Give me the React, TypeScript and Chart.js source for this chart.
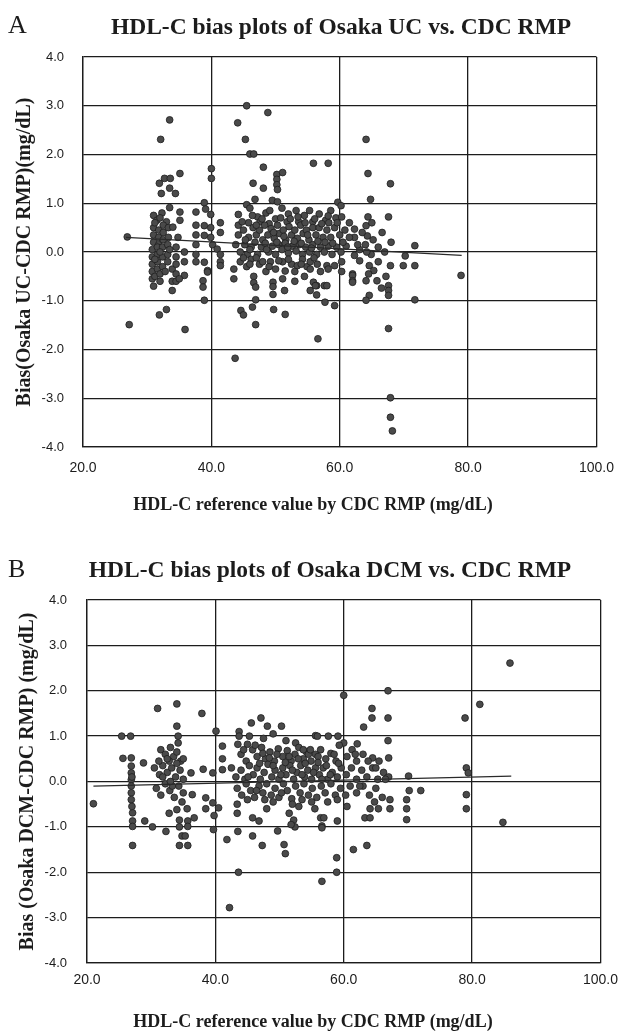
import React, { useEffect, useRef } from 'react';
import { Chart, registerables } from 'chart.js';

Chart.register(...registerables);

// ---------- data ----------
const xTickValues = [20, 40, 60, 80, 100];
const yTickValues = [-4, -3, -2, -1, 0, 1, 2, 3, 4];

const titleA = 'HDL-C bias plots of Osaka UC vs. CDC RMP';
const titleB = 'HDL-C bias plots of Osaka DCM vs. CDC RMP';
const yTitleA = 'Bias(Osaka UC-CDC RMP)(mg/dL)';
const yTitleB = 'Bias (Osaka DCM-CDC RMP) (mg/dL)';
const xTitle = 'HDL-C reference value by CDC RMP (mg/dL)';

// Panel A: [reference value, bias]
const ucPoints: [number, number][] = [
  [45.5, 3.0], [48.8, 2.86], [33.5, 2.71], [44.1, 2.65], [32.1, 2.31], [45.3, 2.31], [46.0, 2.01], [46.6, 2.01],
  [64.1, 2.31], [55.9, 1.82], [58.2, 1.82], [48.1, 1.74], [40.0, 1.71], [40.0, 1.51], [35.1, 1.61], [32.7, 1.51],
  [33.6, 1.51], [31.9, 1.41], [33.5, 1.31], [34.4, 1.2], [32.2, 1.2], [50.2, 1.59], [51.1, 1.63], [50.2, 1.49],
  [50.2, 1.38], [50.3, 1.28], [46.5, 1.41], [48.1, 1.31], [64.4, 1.61], [67.9, 1.4], [64.8, 1.08], [59.7, 1.02],
  [60.2, 0.95], [64.4, 0.72], [67.6, 0.72], [26.9, 0.31],
  [33.5, 0.91], [35.1, 0.82], [35.1, 0.65], [37.6, 0.82], [38.9, 1.01], [39.1, 0.88], [39.9, 0.77], [44.2, 0.77],
  [45.5, 0.97], [46.0, 0.9], [46.8, 1.08], [49.5, 1.06], [50.3, 1.03], [51.0, 0.9], [52.0, 0.78], [53.2, 0.85],
  [54.5, 0.75], [55.3, 0.85], [56.8, 0.78], [57.8, 0.65], [58.6, 0.85], [59.4, 0.7], [31.0, 0.75], [31.5, 0.65],
  [32.3, 0.8], [33.0, 0.62], [47.2, 0.72], [48.5, 0.8], [50.0, 0.68], [51.8, 0.62], [53.6, 0.62], [55.8, 0.62],
  [58.2, 0.74], [60.3, 0.72], [61.5, 0.6], [64.1, 0.54], [47.6, 0.62], [49.0, 0.58],
  [31.0, 0.5], [31.0, 0.35], [31.0, 0.2], [31.8, 0.45], [31.8, 0.3], [31.8, 0.15], [32.5, 0.55], [32.5, 0.4],
  [32.5, 0.25], [33.3, 0.5], [33.3, 0.3], [34.0, 0.51], [34.8, 0.3], [37.6, 0.55], [37.6, 0.35], [38.9, 0.54],
  [38.9, 0.34], [39.9, 0.5], [39.9, 0.3], [41.4, 0.6], [41.4, 0.4], [44.2, 0.55], [44.2, 0.35], [45.0, 0.45],
  [45.8, 0.6], [45.8, 0.3], [46.5, 0.5], [47.0, 0.35], [47.5, 0.45], [48.0, 0.25], [48.3, 0.55], [48.8, 0.35],
  [49.3, 0.48], [49.8, 0.28], [50.3, 0.55], [50.6, 0.38], [51.2, 0.45], [51.6, 0.25], [52.1, 0.52], [52.5, 0.35],
  [53.0, 0.45], [53.4, 0.28], [53.9, 0.55], [54.3, 0.38], [54.8, 0.45], [55.2, 0.25], [55.8, 0.5], [56.3, 0.35],
  [56.8, 0.5], [57.4, 0.3], [58.0, 0.45], [58.6, 0.3], [59.2, 0.5], [60.0, 0.35], [60.8, 0.45], [62.3, 0.47],
  [62.3, 0.3], [64.3, 0.33], [66.6, 0.4], [65.2, 0.25],
  [30.8, 0.05], [30.8, -0.1], [31.6, 0.1], [31.6, -0.05], [32.4, 0.1], [32.4, -0.1], [33.2, 0.15], [33.2, -0.05],
  [34.5, 0.1], [34.5, -0.1], [35.8, 0.0], [37.6, 0.15], [37.6, -0.05], [40.2, 0.15], [40.9, 0.06], [41.4, -0.05],
  [43.8, 0.15], [44.5, 0.0], [45.2, 0.15], [45.6, -0.05], [46.2, 0.1], [46.8, 0.2], [47.2, -0.05], [47.8, 0.1],
  [48.4, 0.18], [48.9, 0.0], [49.5, 0.12], [50.0, -0.05], [50.5, 0.15], [51.0, 0.05], [51.5, 0.18], [52.0, -0.02],
  [52.6, 0.12], [53.2, 0.02], [53.7, 0.15], [54.2, -0.05], [54.7, 0.1], [55.3, 0.0], [55.8, 0.15], [56.4, -0.05],
  [57.0, 0.1], [57.6, 0.0], [58.2, 0.12], [58.8, -0.05], [59.5, 0.1], [60.2, 0.0], [61.0, 0.12], [62.3, -0.07],
  [63.1, 0.05], [64.0, 0.15], [64.9, -0.05], [66.0, 0.1], [67.0, 0.0], [71.7, 0.13],
  [30.8, -0.25], [30.8, -0.4], [31.6, -0.2], [31.6, -0.35], [32.4, -0.3], [33.2, -0.2], [33.9, -0.35], [34.5, -0.25],
  [34.5, -0.45], [35.8, -0.2], [35.8, -0.48], [37.6, -0.2], [38.9, -0.21], [39.4, -0.38], [39.4, -0.41], [41.4, -0.2],
  [41.4, -0.28], [43.5, -0.35], [44.5, -0.2], [45.5, -0.3], [46.2, -0.15], [46.6, -0.5], [47.5, -0.25], [48.5, -0.4],
  [49.2, -0.2], [50.0, -0.35], [51.1, -0.2], [51.5, -0.39], [52.5, -0.25], [53.4, -0.28], [54.2, -0.15], [54.9, -0.3],
  [55.4, -0.35], [55.4, -0.2], [56.5, -0.25], [58.0, -0.28], [58.2, -0.35], [59.2, -0.28], [60.3, -0.2], [60.3, -0.4],
  [62.0, -0.45], [63.1, -0.18], [64.6, -0.28], [65.3, -0.38], [64.5, -0.45], [67.9, -0.28], [69.9, -0.28], [70.2, -0.08],
  [71.7, -0.28], [78.9, -0.48],
  [30.8, -0.55], [31.0, -0.7], [32.0, -0.6], [33.9, -0.6], [33.9, -0.79], [34.5, -0.6], [35.0, -0.55], [38.7, -0.59],
  [38.7, -0.72], [38.9, -0.99], [43.5, -0.55], [46.6, -0.63], [46.9, -0.72], [46.9, -0.98], [49.6, -0.62], [49.6, -0.71],
  [49.6, -0.87], [51.1, -0.55], [51.4, -0.79], [55.9, -0.62], [55.4, -0.79], [56.4, -0.69], [56.4, -0.88], [57.6, -0.69],
  [57.7, -1.03], [59.2, -1.1], [62.0, -0.48], [62.0, -0.59], [62.0, -0.62], [64.1, -0.59], [65.8, -0.59], [66.5, -0.74],
  [64.6, -0.89], [64.1, -0.99], [67.6, -0.69], [67.6, -0.79], [67.6, -0.89], [71.7, -0.98], [56.2, -0.69], [58.0, -0.69],
  [54.5, -0.5], [53.0, -0.6],
  [27.2, -1.49], [31.9, -1.29], [33.0, -1.18], [35.9, -1.59], [43.7, -2.18], [44.6, -1.2], [45.0, -1.29], [46.9, -1.49],
  [46.4, -1.13], [49.7, -1.18], [51.5, -1.28], [56.6, -1.78], [67.6, -1.57], [67.9, -2.99], [67.9, -3.39], [68.2, -3.67],
  [44.8, 0.62], [45.3, 0.25], [46.0, 0.05], [46.4, 0.75], [47.0, 0.55], [47.9, 0.68], [48.6, 0.05], [49.1, 0.85],
  [49.7, 0.4], [50.2, 0.2], [50.8, 0.7], [51.3, 0.32], [51.9, 0.1], [52.3, 0.68], [52.9, 0.22], [53.5, 0.72],
  [54.0, 0.18], [54.6, 0.6], [55.0, 0.35], [55.6, 0.08], [56.1, 0.68], [56.6, 0.22], [57.2, 0.58], [57.7, 0.2],
  [58.3, 0.6], [58.9, 0.18], [59.6, 0.6], [45.0, -0.12], [46.0, -0.25], [47.0, -0.12], [48.0, -0.2], [49.0, -0.3],
  [50.5, -0.18], [52.0, -0.15], [53.0, -0.4], [54.0, -0.25], [56.0, -0.12], [57.0, -0.4], [31.2, 0.6], [31.2, -0.15],
  [31.2, -0.5], [32.0, 0.7], [32.0, 0.0], [32.0, -0.45], [32.8, -0.4], [33.5, 0.05], [60.5, 0.2], [61.5, 0.3],
  [62.8, 0.15], [63.5, 0.4], [65.0, 0.6], [66.0, -0.2], [64.2, 0.0], [67.2, -0.5], [68.0, 0.2],
];
const ucTrend: [number, number][] = [[26.7, 0.3], [79.0, -0.07]];

// Panel B: [reference value, bias]
const dcmPoints: [number, number][] = [
  [85.9, 2.61], [81.2, 1.7], [78.9, 1.4], [66.9, 2.0], [60.0, 1.9], [64.4, 1.61], [64.4, 1.4], [66.9, 1.4],
  [63.1, 1.2], [31.0, 1.61], [34.0, 1.71], [37.9, 1.5], [34.0, 1.22], [45.6, 1.29], [47.1, 1.4], [48.1, 1.22],
  [50.3, 1.22], [43.7, 1.1], [40.1, 1.11],
  [25.4, 1.0], [26.8, 1.0], [34.2, 1.0], [34.2, 0.85], [43.7, 1.0], [45.3, 1.0], [55.6, 1.01], [57.6, 1.0],
  [55.9, 1.0], [59.1, 1.0], [66.9, 0.9], [60.0, 0.85], [59.3, 0.8], [62.1, 0.83], [61.3, 0.7], [47.5, 0.95],
  [49.0, 1.05], [51.0, 0.9], [52.5, 0.85],
  [25.6, 0.51], [26.9, 0.52], [28.8, 0.41], [31.5, 0.7], [32.2, 0.6], [33.0, 0.75], [33.5, 0.55], [34.0, 0.65],
  [32.8, 0.45], [34.6, 0.45], [41.1, 0.78], [41.1, 0.5], [43.5, 0.82], [45.0, 0.82], [44.0, 0.6], [44.8, 0.45],
  [45.8, 0.7], [46.5, 0.55], [47.2, 0.75], [47.8, 0.5], [48.5, 0.65], [49.2, 0.45], [49.8, 0.72], [50.5, 0.55],
  [51.2, 0.68], [51.8, 0.45], [52.4, 0.6], [53.0, 0.75], [53.7, 0.5], [54.2, 0.65], [54.9, 0.45], [55.6, 0.6],
  [56.4, 0.7], [57.2, 0.5], [58.0, 0.62], [58.8, 0.45], [53.7, 0.7], [54.5, 0.6], [56.0, 0.55], [64.5, 0.52],
  [67.0, 0.52], [63.0, 0.6], [65.5, 0.45], [62.0, 0.45], [60.5, 0.55],
  [26.9, 0.34], [26.9, 0.19], [26.9, 0.04], [30.5, 0.3], [31.3, 0.15], [31.8, 0.35], [32.5, 0.2], [33.2, 0.3],
  [33.8, 0.1], [34.5, 0.25], [35.0, 0.05], [36.2, 0.19], [38.1, 0.27], [39.6, 0.19], [41.1, 0.26], [42.5, 0.3],
  [43.2, 0.1], [44.0, 0.25], [44.6, 0.05], [45.3, 0.35], [45.9, 0.15], [46.5, 0.3], [47.0, 0.05], [47.6, 0.2],
  [48.2, 0.38], [48.8, 0.1], [49.3, 0.25], [49.9, 0.05], [50.5, 0.3], [51.0, 0.15], [51.6, 0.35], [52.2, 0.05],
  [52.7, 0.2], [53.3, 0.35], [53.9, 0.1], [54.4, 0.25], [55.0, 0.05], [55.6, 0.3], [56.2, 0.15], [56.8, 0.3],
  [57.5, 0.05], [58.2, 0.2], [59.0, 0.1], [59.6, 0.3], [60.4, 0.15], [61.2, 0.3], [62.0, 0.05], [62.8, 0.25],
  [63.6, 0.1], [64.5, 0.3], [65.3, 0.05], [66.2, 0.2], [67.0, 0.1], [70.1, 0.12], [79.1, 0.3], [79.4, 0.19],
  [26.9, -0.1], [26.9, -0.25], [26.9, -0.4], [21.0, -0.49], [30.8, -0.15], [31.5, -0.3], [32.2, -0.05], [32.9, -0.2],
  [33.6, -0.35], [34.3, -0.1], [35.0, -0.25], [36.4, -0.29], [38.5, -0.36], [39.6, -0.47], [43.4, -0.15], [44.1, -0.3],
  [44.8, -0.05], [45.5, -0.2], [46.1, -0.35], [46.8, -0.1], [47.4, -0.25], [48.0, -0.05], [48.7, -0.3], [49.3, -0.15],
  [49.9, -0.35], [50.6, -0.05], [51.2, -0.2], [51.9, -0.38], [52.5, -0.1], [53.2, -0.25], [53.8, -0.05], [54.5, -0.3],
  [55.1, -0.15], [55.8, -0.35], [56.5, -0.1], [57.1, -0.25], [58.0, -0.05], [58.7, -0.3], [59.5, -0.15], [60.3, -0.3],
  [61.0, -0.1], [62.0, -0.25], [63.0, -0.1], [64.0, -0.3], [65.0, -0.15], [66.0, -0.35], [67.2, -0.4], [70.2, -0.2],
  [72.0, -0.2], [79.1, -0.29], [69.8, -0.4],
  [27.1, -0.69], [27.1, -0.87], [27.1, -0.99], [29.0, -0.87], [30.2, -1.0], [32.8, -0.7], [34.0, -0.62], [34.4, -0.85],
  [34.4, -1.0], [35.6, -0.6], [35.7, -0.87], [35.7, -0.99], [36.7, -0.8], [38.5, -0.6], [39.8, -0.75], [40.5, -0.58],
  [43.4, -0.5], [43.4, -0.7], [45.8, -0.8], [46.8, -0.87], [49.7, -1.09], [51.5, -0.7], [52.2, -0.85], [52.4, -1.0],
  [51.8, -0.95], [56.4, -0.8], [56.9, -0.8], [56.6, -0.98], [59.0, -0.87], [56.6, -1.02], [63.3, -0.8], [64.1, -0.8],
  [64.1, -0.6], [65.4, -0.6], [67.2, -0.6], [69.8, -0.6], [69.8, -0.84], [79.1, -0.6], [84.8, -0.9], [48.0, -0.6],
  [53.0, -0.55], [55.5, -0.6], [60.5, -0.55],
  [27.1, -1.41], [32.3, -1.1], [34.8, -1.2], [35.3, -1.2], [34.4, -1.41], [35.7, -1.41], [39.7, -1.06], [41.8, -1.28],
  [42.2, -2.78], [43.6, -2.0], [43.5, -1.1], [45.8, -1.2], [47.3, -1.41], [50.7, -1.39], [50.9, -1.59], [56.6, -2.2],
  [58.9, -1.68], [58.9, -2.0], [61.5, -1.5], [63.6, -1.41],
  [44.4, 0.7], [45.1, 0.1], [46.2, 0.8], [46.9, 0.4], [47.4, 0.62], [48.4, 0.52], [49.0, 0.35], [49.6, 0.6],
  [50.2, 0.15], [50.9, 0.42], [51.5, 0.55], [52.0, 0.25], [52.9, 0.5], [53.5, 0.15], [54.0, 0.4], [54.8, 0.7],
  [55.3, 0.2], [56.0, 0.42], [56.6, 0.05], [57.3, 0.35], [57.9, 0.15], [58.5, 0.6], [59.2, 0.4], [45.0, -0.4],
  [46.4, -0.2], [47.7, -0.4], [49.0, -0.45], [50.3, -0.25], [52.0, -0.5], [53.5, -0.4], [55.0, -0.45], [57.5, -0.45],
  [59.0, -0.4], [31.8, 0.1], [32.5, 0.5], [33.3, -0.1], [34.0, 0.4], [35.0, 0.5], [31.2, 0.45], [33.0, 0.0],
  [34.8, -0.45], [61.8, 0.6], [62.5, -0.1], [63.8, 0.45], [65.0, 0.3], [66.5, 0.05], [64.8, -0.45], [27.0, 0.1],
  [27.0, -0.55],
];
const dcmTrend: [number, number][] = [[21.0, -0.1], [86.1, 0.12]];

// ---------- styling ----------
const SERIF = '"Liberation Serif", "Times New Roman", serif';
const SANS = '"Liberation Sans", Arial, sans-serif';
const INK = '#1c1c1c';

const headerPlugin = {
  id: 'header',
  afterDraw(chart: any, _args: any, opts: any) {
    const ctx = chart.ctx;
    ctx.save();
    ctx.fillStyle = INK;
    ctx.textBaseline = 'alphabetic';
    ctx.textAlign = 'left';
    ctx.font = `26px ${SERIF}`;
    ctx.fillText(opts.letter, opts.letterX, opts.letterY);
    ctx.textAlign = 'center';
    ctx.font = `bold 23.5px ${SERIF}`;
    ctx.fillText(opts.title, opts.titleX, opts.titleY);
    ctx.textBaseline = 'middle';
    ctx.font = `bold 18px ${SERIF}`;
    ctx.fillText(opts.xTitle, opts.xTitleX, opts.xTitleY);
    ctx.restore();
  },
};

type Geo = {
  height: number;
  padTop: number;
  padRight: number;
  padBottom: number;
  yWidth: number;
  xHeight: number;
  yTickPad: number;
  xTickPad: number;
  yTitlePad: number;
  titleX: number;
  titleY: number;
  letterY: number;
  xTitleX: number;
  xTitleY: number;
};

function BiasChart(props: {
  points: [number, number][];
  trend: [number, number][];
  title: string;
  letter: string;
  yTitle: string;
  geo: Geo;
}) {
  const ref = useRef<HTMLCanvasElement | null>(null);
  useEffect(() => {
    if (!ref.current) return;
    const g = props.geo;
    const chart = new Chart(ref.current, {
      type: 'scatter',
      data: {
        datasets: [
          {
            type: 'line',
            data: props.trend.map(([x, y]) => ({ x, y })),
            borderColor: '#2a2a2a',
            borderWidth: 1.3,
            pointRadius: 0,
            fill: false,
          } as any,
          {
            data: props.points.map(([x, y]) => ({ x, y })),
            backgroundColor: '#4a4a4a',
            borderColor: '#1e1e1e',
            borderWidth: 0.8,
            pointRadius: 3.4,
          },
        ],
      },
      options: {
        responsive: false,
        animation: false,
        devicePixelRatio: 1,
        layout: { padding: { top: g.padTop, right: g.padRight, left: 0, bottom: g.padBottom } },
        plugins: {
          legend: { display: false },
          tooltip: { enabled: false },
          header: {
            letter: props.letter,
            letterX: 8,
            letterY: g.letterY,
            title: props.title,
            titleX: g.titleX,
            titleY: g.titleY,
            xTitle: xTitle,
            xTitleX: g.xTitleX,
            xTitleY: g.xTitleY,
          },
        } as any,
        scales: {
          x: {
            type: 'linear',
            min: 20,
            max: 100,
            afterBuildTicks: (s: any) => {
              s.ticks = xTickValues.map((v) => ({ value: v }));
            },
            afterFit: (s: any) => {
              s.height = g.xHeight;
            },
            ticks: {
              padding: g.xTickPad,
              color: INK,
              font: { family: SANS, size: 14 },
              callback: (v: any) => Number(v).toFixed(1),
            },
            grid: { color: INK, lineWidth: 1.3, drawTicks: false },
            border: { display: true, color: INK, width: 1.3 },
          },
          y: {
            type: 'linear',
            min: -4,
            max: 4,
            afterBuildTicks: (s: any) => {
              s.ticks = yTickValues.map((v) => ({ value: v }));
            },
            afterFit: (s: any) => {
              s.width = g.yWidth;
            },
            ticks: {
              padding: g.yTickPad,
              color: INK,
              font: { family: SANS, size: 13 },
              callback: (v: any) => Number(v).toFixed(1),
            },
            grid: { color: INK, lineWidth: 1.3, drawTicks: false },
            border: { display: true, color: INK, width: 1.3 },
            title: {
              display: true,
              text: props.yTitle,
              color: INK,
              font: { family: SERIF, size: 20, weight: 'bold' },
              padding: { top: g.yTitlePad, bottom: 0 },
            },
          },
        },
      },
      plugins: [headerPlugin as any],
    });
    return () => chart.destroy();
  }, []);
  return (
    <canvas
      ref={ref}
      width={627}
      height={props.geo.height}
      style={{ display: 'block', width: '627px', height: props.geo.height + 'px' }}
    />
  );
}

const geoA: Geo = {
  height: 540,
  padTop: 57,
  padRight: 21,
  padBottom: 23,
  yWidth: 83,
  xHeight: 70,
  yTickPad: 19,
  xTickPad: 13,
  yTitlePad: 13,
  titleX: 341,
  titleY: 34,
  letterY: 33,
  xTitleX: 313,
  xTitleY: 505,
};

const geoB: Geo = {
  height: 493,
  padTop: 60,
  padRight: 24,
  padBottom: 0,
  yWidth: 87,
  xHeight: 70,
  yTickPad: 20,
  xTickPad: 9,
  yTitlePad: 16,
  titleX: 330,
  titleY: 37,
  letterY: 37,
  xTitleX: 313,
  xTitleY: 482,
};

export default function App() {
  return (
    <div style={{ position: 'absolute', left: 0, top: 0, width: 627, height: 1033, background: '#fff' }}>
      <BiasChart points={ucPoints} trend={ucTrend} title={titleA} letter="A" yTitle={yTitleA} geo={geoA} />
      <BiasChart points={dcmPoints} trend={dcmTrend} title={titleB} letter="B" yTitle={yTitleB} geo={geoB} />
    </div>
  );
}
